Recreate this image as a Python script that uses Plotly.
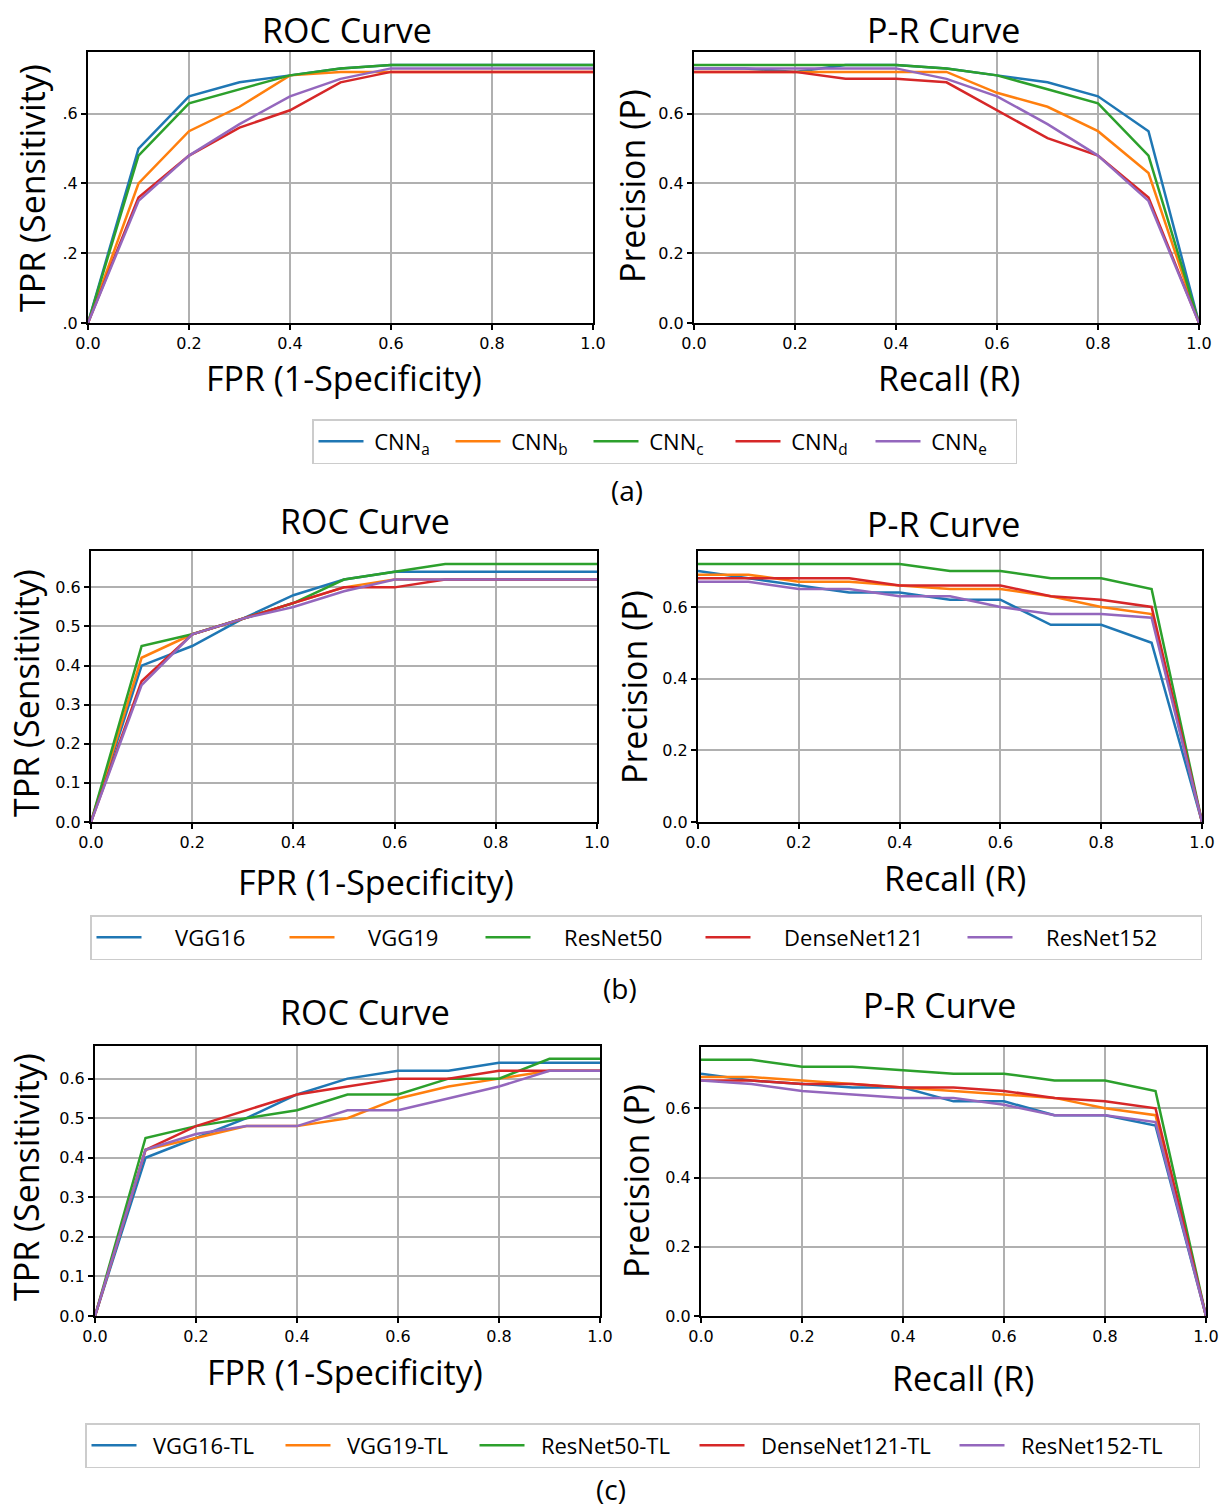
import plotly.graph_objects as go

W, H = 1221, 1510
X = [0.0, 0.1, 0.2, 0.3, 0.4, 0.5, 0.6, 0.7, 0.8, 0.9, 1.0]
COLORS = ["#1f77b4", "#ff7f0e", "#2ca02c", "#d62728", "#9467bd"]

# (a)
names_a = ["CNN<sub>a</sub>", "CNN<sub>b</sub>", "CNN<sub>c</sub>", "CNN<sub>d</sub>", "CNN<sub>e</sub>"]
roc_a = [
    [0, 0.50, 0.65, 0.69, 0.71, 0.73, 0.74, 0.74, 0.74, 0.74, 0.74],
    [0, 0.40, 0.55, 0.62, 0.71, 0.72, 0.72, 0.72, 0.72, 0.72, 0.72],
    [0, 0.48, 0.63, 0.67, 0.71, 0.73, 0.74, 0.74, 0.74, 0.74, 0.74],
    [0, 0.36, 0.48, 0.56, 0.61, 0.69, 0.72, 0.72, 0.72, 0.72, 0.72],
    [0, 0.35, 0.48, 0.57, 0.65, 0.70, 0.73, 0.73, 0.73, 0.73, 0.73],
]
pr_a = [
    [0.73, 0.73, 0.72, 0.74, 0.74, 0.73, 0.71, 0.69, 0.65, 0.55, 0],
    [0.72, 0.72, 0.72, 0.72, 0.72, 0.72, 0.66, 0.62, 0.55, 0.43, 0],
    [0.74, 0.74, 0.74, 0.74, 0.74, 0.73, 0.71, 0.67, 0.63, 0.48, 0],
    [0.72, 0.72, 0.72, 0.70, 0.70, 0.69, 0.61, 0.53, 0.48, 0.36, 0],
    [0.73, 0.73, 0.73, 0.73, 0.73, 0.70, 0.65, 0.57, 0.48, 0.35, 0],
]
# (b)
names_b = ["VGG16", "VGG19", "ResNet50", "DenseNet121", "ResNet152"]
roc_b = [
    [0, 0.40, 0.45, 0.52, 0.58, 0.62, 0.64, 0.64, 0.64, 0.64, 0.64],
    [0, 0.42, 0.48, 0.52, 0.56, 0.60, 0.62, 0.62, 0.62, 0.62, 0.62],
    [0, 0.45, 0.48, 0.52, 0.56, 0.62, 0.64, 0.66, 0.66, 0.66, 0.66],
    [0, 0.36, 0.48, 0.52, 0.56, 0.60, 0.60, 0.62, 0.62, 0.62, 0.62],
    [0, 0.35, 0.48, 0.52, 0.55, 0.59, 0.62, 0.62, 0.62, 0.62, 0.62],
]
pr_b = [
    [0.70, 0.68, 0.66, 0.64, 0.64, 0.62, 0.62, 0.55, 0.55, 0.50, 0],
    [0.69, 0.69, 0.67, 0.67, 0.66, 0.65, 0.65, 0.63, 0.60, 0.58, 0],
    [0.72, 0.72, 0.72, 0.72, 0.72, 0.70, 0.70, 0.68, 0.68, 0.65, 0],
    [0.68, 0.68, 0.68, 0.68, 0.66, 0.66, 0.66, 0.63, 0.62, 0.60, 0],
    [0.67, 0.67, 0.65, 0.65, 0.63, 0.63, 0.60, 0.58, 0.58, 0.57, 0],
]
# (c)
names_c = ["VGG16-TL", "VGG19-TL", "ResNet50-TL", "DenseNet121-TL", "ResNet152-TL"]
roc_c = [
    [0, 0.40, 0.45, 0.50, 0.56, 0.60, 0.62, 0.62, 0.64, 0.64, 0.64],
    [0, 0.42, 0.45, 0.48, 0.48, 0.50, 0.55, 0.58, 0.60, 0.62, 0.62],
    [0, 0.45, 0.48, 0.50, 0.52, 0.56, 0.56, 0.60, 0.60, 0.65, 0.65],
    [0, 0.42, 0.48, 0.52, 0.56, 0.58, 0.60, 0.60, 0.62, 0.62, 0.62],
    [0, 0.42, 0.46, 0.48, 0.48, 0.52, 0.52, 0.55, 0.58, 0.62, 0.62],
]
pr_c = [
    [0.70, 0.68, 0.67, 0.66, 0.66, 0.62, 0.62, 0.58, 0.58, 0.55, 0],
    [0.69, 0.69, 0.68, 0.67, 0.66, 0.65, 0.64, 0.63, 0.60, 0.58, 0],
    [0.74, 0.74, 0.72, 0.72, 0.71, 0.70, 0.70, 0.68, 0.68, 0.65, 0],
    [0.68, 0.68, 0.67, 0.67, 0.66, 0.66, 0.65, 0.63, 0.62, 0.60, 0],
    [0.68, 0.67, 0.65, 0.64, 0.63, 0.63, 0.61, 0.58, 0.58, 0.56, 0],
]

X_TICKS = [0, 0.2, 0.4, 0.6, 0.8, 1.0]
X_TICKTEXT = ["0.0", "0.2", "0.4", "0.6", "0.8", "1.0"]

# per-entry legend widths (px) for each legend row
LEGW_A = [77, 78, 82, 80, 85]
LEGW_B = [133, 136, 160, 202, 178]
LEGW_C = [134, 134, 160, 200, 184]
NBSP = "\u00a0"


def px_x(p):
    return p / W


def px_y(p):
    return 1 - p / H


TITLE_FONT = "Open Sans"
TICK_FONT = "DejaVu Sans"

fig = go.Figure()

panels = [
    (roc_a, names_a, "legend", (88, 593, 52, 323), 0.777, [0, 0.2, 0.4, 0.6], [".0", ".2", ".4", ".6"], True, LEGW_A, 1),
    (pr_a, names_a, "legend", (694, 1199, 52, 323), 0.777, [0, 0.2, 0.4, 0.6], ["0.0", "0.2", "0.4", "0.6"], False, LEGW_A, 1),
    (roc_b, names_b, "legend2", (91, 597, 551, 822), 0.693, [0, 0.1, 0.2, 0.3, 0.4, 0.5, 0.6],
     ["0.0", "0.1", "0.2", "0.3", "0.4", "0.5", "0.6"], True, LEGW_B, 5),
    (pr_b, names_b, "legend2", (698, 1202, 551, 822), 0.756, [0, 0.2, 0.4, 0.6], ["0.0", "0.2", "0.4", "0.6"], False, LEGW_B, 5),
    (roc_c, names_c, "legend3", (95, 600, 1046, 1316), 0.6825, [0, 0.1, 0.2, 0.3, 0.4, 0.5, 0.6],
     ["0.0", "0.1", "0.2", "0.3", "0.4", "0.5", "0.6"], True, LEGW_C, 2),
    (pr_c, names_c, "legend3", (701, 1206, 1047, 1316), 0.777, [0, 0.2, 0.4, 0.6], ["0.0", "0.2", "0.4", "0.6"], False, LEGW_C, 2),
]

layout_axes = {}
for i, (series, names, leg, box, ymax, ytv, ytt, show_leg, legw, pad) in enumerate(panels):
    n = i + 1
    xa = "x" if n == 1 else f"x{n}"
    ya = "y" if n == 1 else f"y{n}"
    for k, (vals, name) in enumerate(zip(series, names)):
        fig.add_trace(go.Scatter(
            x=X, y=vals, mode="lines", name=NBSP * pad + name,
            line=dict(color=COLORS[k], width=2.5),
            xaxis=xa, yaxis=ya, legend=leg, showlegend=show_leg,
            legendwidth=legw[k],
        ))
    x0, x1, y0, y1 = box
    axis_common = dict(
        showline=True, mirror=True, linecolor="black", linewidth=2,
        ticks="outside", ticklen=5, tickwidth=1.5, tickcolor="black",
        showgrid=True, gridcolor="#b0b0b0", gridwidth=1.5, zeroline=False,
        tickfont=dict(family=TICK_FONT, size=16, color="black"),
    )
    layout_axes["xaxis" if n == 1 else f"xaxis{n}"] = dict(
        domain=[px_x(x0), px_x(x1)], range=[0, 1], anchor=ya,
        tickvals=X_TICKS, ticktext=X_TICKTEXT, **axis_common)
    layout_axes["yaxis" if n == 1 else f"yaxis{n}"] = dict(
        domain=[px_y(y1), px_y(y0)], range=[0, ymax], anchor=xa,
        tickvals=ytv, ticktext=ytt, **axis_common)

annotations = []


def add_text(text, x, y, size, angle=0):
    annotations.append(dict(
        text=text, x=px_x(x), y=px_y(y), xref="paper", yref="paper",
        xanchor="center", yanchor="middle", showarrow=False, textangle=angle,
        font=dict(family=TITLE_FONT, size=size, color="black"),
    ))


for (tx, ty, txt) in [(347, 30, "ROC Curve"), (943, 30, "P-R Curve"),
                      (365, 521, "ROC Curve"), (943, 524, "P-R Curve"),
                      (365, 1012, "ROC Curve"), (939, 1005, "P-R Curve")]:
    add_text(txt, tx, ty, 34)
for (tx, ty, txt) in [(344, 378, "FPR (1-Specificity)"), (949, 378, "Recall (R)"),
                      (376, 882, "FPR (1-Specificity)"), (955, 878, "Recall (R)"),
                      (345, 1372, "FPR (1-Specificity)"), (963, 1378, "Recall (R)")]:
    add_text(txt, tx, ty, 34)
for (tx, ty, txt) in [(32, 188, "TPR (Sensitivity)"), (632, 186, "Precision (P)"),
                      (26, 693, "TPR (Sensitivity)"), (634, 687, "Precision (P)"),
                      (26, 1177, "TPR (Sensitivity)"), (636, 1181, "Precision (P)")]:
    add_text(txt, tx, ty, 34, angle=-90)
for (tx, ty, txt) in [(627, 490, "(a)"), (620, 988, "(b)"), (611, 1489, "(c)")]:
    add_text(txt, tx, ty, 28)

LEG_FONT = dict(family="Open Sans", size=22, color="black")


def legend_cfg(left, top):
    return dict(
        orientation="h", x=px_x(left), y=px_y(top), xanchor="left", yanchor="top",
        xref="paper", yref="paper", bgcolor="white", bordercolor="#cccccc", borderwidth=1.5,
        font=LEG_FONT, entrywidthmode="pixels", itemwidth=45,
        tracegroupgap=0, itemclick=False,
    )


fig.update_layout(
    width=W, height=H, margin=dict(l=0, r=0, t=0, b=0, autoexpand=False),
    paper_bgcolor="white", plot_bgcolor="white",
    annotations=annotations,
    legend=legend_cfg(312, 419),
    legend2=legend_cfg(90, 915),
    legend3=legend_cfg(85, 1423),
    **layout_axes,
)

fig.write_html(
    "out.html",
    config={"displayModeBar": False},
    post_script="document.body.style.margin='0px';document.body.style.overflow='hidden';",
)
